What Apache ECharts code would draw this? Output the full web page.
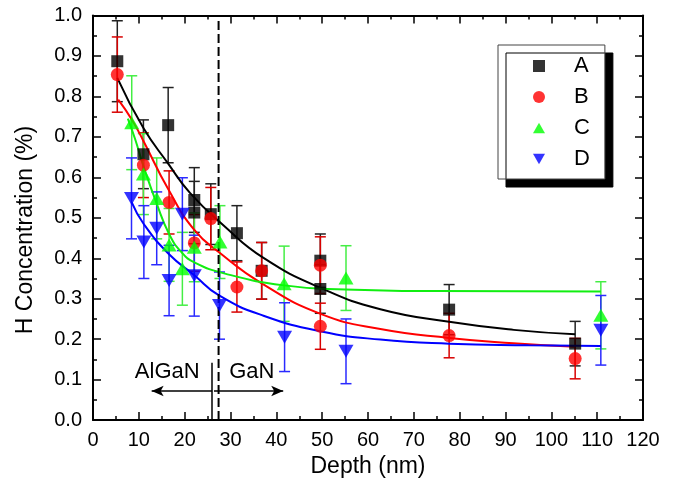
<!DOCTYPE html>
<html>
<head>
<meta charset="utf-8">
<script src="https://cdn.jsdelivr.net/npm/echarts@6/dist/echarts.min.js"></script>
<style>html,body{margin:0;padding:0;background:#fff}#c{width:677px;height:483px}</style>
</head>
<body>
<div id="c"></div>
<script>
// ---- data ----
const xTicks = [0,10,20,30,40,50,60,70,80,90,100,110,120];
const yTicks = [0.0,0.1,0.2,0.3,0.4,0.5,0.6,0.7,0.8,0.9,1.0];

const A_x   = [5.3, 11.0, 16.4, 22.1, 22.1, 25.7, 31.4, 36.8, 49.6, 49.6, 77.7, 105.2];
const A_y   = [0.887, 0.657, 0.729, 0.544, 0.513, 0.509, 0.462, 0.369, 0.394, 0.324, 0.273, 0.189];
const A_err = [0.10, 0.085, 0.093, 0.08, 0.077, 0.075, 0.068, 0.07, 0.066, 0.06, 0.062, 0.055];

const B_x   = [5.3, 11.0, 16.6, 22.1, 25.7, 31.4, 36.8, 49.6, 49.6, 77.7, 105.2];
const B_y   = [0.854, 0.63, 0.538, 0.438, 0.498, 0.329, 0.369, 0.383, 0.232, 0.209, 0.152];
const B_err = [0.093, 0.08, 0.078, 0.07, 0.077, 0.062, 0.07, 0.07, 0.057, 0.055, 0.05];

const C_x   = [8.45, 11.0, 13.9, 16.6, 19.5, 22.1, 27.7, 41.7, 55.2, 110.8];
const C_y   = [0.735, 0.608, 0.548, 0.433, 0.374, 0.427, 0.44, 0.337, 0.351, 0.259];
const C_err = [0.116, 0.10, 0.10, 0.09, 0.09, 0.085, 0.09, 0.093, 0.08, 0.083];

const D_x   = [8.4, 11.1, 13.9, 16.6, 19.5, 22.1, 27.6, 41.8, 55.2, 110.8];
const D_y   = [0.548, 0.44, 0.474, 0.345, 0.509, 0.357, 0.283, 0.205, 0.17, 0.222];
const D_err = [0.10, 0.09, 0.09, 0.087, 0.09, 0.10, 0.083, 0.085, 0.08, 0.086];

// fitted curves
const A_fit_x = [5.3, 11.0, 16.4, 21.2, 28.5, 37.2, 49.8, 62.7, 77.7, 91.8, 105.2];
const A_fit_y = [0.846, 0.722, 0.634, 0.561, 0.481, 0.401, 0.326, 0.274, 0.243, 0.223, 0.212];
const B_fit_x = [5.5, 8.45, 11.0, 16.4, 22.1, 27.7, 36.8, 49.8, 62.7, 77.7, 91.7, 105.2];
const B_fit_y = [0.792, 0.743, 0.69, 0.571, 0.47, 0.413, 0.338, 0.262, 0.225, 0.203, 0.19, 0.181];
const C_fit_x = [7.6, 9.2, 11.0, 13.9, 16.6, 19.3, 22.1, 28.8, 41.7, 55.0, 75.0, 110.8];
const C_fit_y = [0.745, 0.694, 0.628, 0.535, 0.46, 0.415, 0.39, 0.362, 0.333, 0.323, 0.319, 0.318];
const D_fit_x = [8.45, 11.1, 16.6, 22.1, 27.5, 37.2, 49.8, 62.7, 77.7, 95.0, 110.8];
const D_fit_y = [0.538, 0.484, 0.41, 0.358, 0.308, 0.258, 0.219, 0.199, 0.189, 0.185, 0.183];

const seriesNames = ['A','B','C','D'];
const layerLabels = ['AlGaN','GaN'];
const layerLabelX = [16.2, 34.65];
const layerLabelY = 0.119;
const dashedX = 27.4;
const interfaceX = 26.0;
const interfaceTop = 0.142;
const arrowY = 0.072;
const arrowLeftEnd = 12.8;
const arrowRightEnd = 41.5;

// ---- build chart ----
const FONT = 'Liberation Sans';
const pts = (xs, ys) => xs.map((x,i)=>[x, ys[i]]);
const errs = (xs, ys, es) => xs.map((x,i)=>[x, ys[i]-es[i], ys[i]+es[i]]);

function errSeries(name, xs, ys, es, color){
  return {
    name: name, type: 'custom', silent: true, z: 2,
    data: errs(xs, ys, es),
    renderItem: function(params, api){
      const x = api.value(0);
      const lo = api.coord([x, api.value(1)]);
      const hi = api.coord([x, api.value(2)]);
      const cap = 5.5;
      const style = {stroke: color, lineWidth: 1.5, fill: null};
      return {type:'group', children:[
        {type:'line', shape:{x1:lo[0], y1:lo[1], x2:hi[0], y2:hi[1]}, style:style},
        {type:'line', shape:{x1:lo[0]-cap, y1:lo[1], x2:lo[0]+cap, y2:lo[1]}, style:style},
        {type:'line', shape:{x1:hi[0]-cap, y1:hi[1], x2:hi[0]+cap, y2:hi[1]}, style:style}
      ]};
    }
  };
}
function fitSeries(name, xs, ys, color){
  return {name: name, type:'line', data: pts(xs, ys), showSymbol:false, symbol:'none',
    smooth: 0.5, silent:true, z:3,
    lineStyle:{color:color, width:2}};
}
const colors = ['#000000','#ff0000','#00ff00','#0000ff'];
const errColors = ['#222222','#d80000','#44ee44','#2a2aff'];
const downTri = 'path://M0,0 L14,0 L7,12 Z';
const upTri = 'path://M7,0 L14,12 L0,12 Z';

const axisCommon = {
  axisLine:{show:true, onZero:false, lineStyle:{color:'#000', width:2}},
  axisTick:{show:true, inside:true, length:8, lineStyle:{color:'#000', width:1.5}},
  minorTick:{show:true, splitNumber:2, length:4, lineStyle:{color:'#000', width:1.5}},
  splitLine:{show:false}
};

const option = {
  animation:false,
  backgroundColor:'#ffffff',
  textStyle:{fontFamily:FONT, color:'#000'},
  grid:{left:93, right:34, top:15.5, bottom:61, containLabel:false},
  xAxis:[Object.assign({
    type:'value', min:xTicks[0], max:xTicks[xTicks.length-1], interval:10,
    position:'bottom',
    name:'Depth (nm)', nameLocation:'middle', nameGap:33,
    nameTextStyle:{fontSize:23, color:'#000', fontFamily:FONT},
    axisLabel:{fontSize:20, color:'#000', margin:10, fontFamily:FONT}
  }, axisCommon), Object.assign({
    type:'value', min:xTicks[0], max:xTicks[xTicks.length-1], interval:10,
    position:'top', axisLabel:{show:false}
  }, axisCommon)],
  yAxis:[Object.assign({
    type:'value', min:yTicks[0], max:yTicks[yTicks.length-1], interval:0.1,
    position:'left',
    axisLabel:{fontSize:20, color:'#000', margin:11, fontFamily:FONT, formatter:v=>v.toFixed(1)}
  }, axisCommon), Object.assign({
    type:'value', min:yTicks[0], max:yTicks[yTicks.length-1], interval:0.1,
    position:'right', axisLabel:{show:false}
  }, axisCommon)],
  legend:{
    data: [
      {name:seriesNames[0], icon:'rect', itemStyle:{color:colors[0]}},
      {name:seriesNames[1], icon:'circle', itemStyle:{color:colors[1]}},
      {name:seriesNames[2], icon:upTri, itemStyle:{color:colors[2]}},
      {name:seriesNames[3], icon:downTri, itemStyle:{color:colors[3]}}
    ],
    orient:'vertical', left:498, top:45,
    padding:[10,15,9,35],
    itemWidth:12, itemHeight:12, itemGap:9,
    backgroundColor:'#fff', borderColor:'#444', borderWidth:1,
    shadowColor:'#000', shadowOffsetX:8, shadowOffsetY:8, shadowBlur:0,
    textStyle:{fontSize:22, lineHeight:22, color:'#000', fontFamily:FONT, padding:[0,0,0,24]},
    selectedMode:false
  },
  graphic:[{
    type:'text', x:26, y:230, rotation:Math.PI/2,
    style:{text:'H Concentration (%)', font:'23px "Liberation Sans"', fill:'#000',
      textAlign:'center', textVerticalAlign:'middle'}
  }],
  series:[
    errSeries('A err', A_x, A_y, A_err, errColors[0]),
    errSeries('B err', B_x, B_y, B_err, errColors[1]),
    errSeries('C err', C_x, C_y, C_err, errColors[2]),
    errSeries('D err', D_x, D_y, D_err, errColors[3]),
    fitSeries('A fit', A_fit_x, A_fit_y, colors[0]),
    fitSeries('B fit', B_fit_x, B_fit_y, colors[1]),
    fitSeries('C fit', C_fit_x, C_fit_y, '#11ee11'),
    fitSeries('D fit', D_fit_x, D_fit_y, colors[3]),
    {name:'A', type:'scatter', data:pts(A_x,A_y), symbol:'rect', symbolSize:12, itemStyle:{color:colors[0]}, z:5},
    {name:'B', type:'scatter', data:pts(B_x,B_y), symbol:'circle', symbolSize:13, itemStyle:{color:colors[1]}, z:5},
    {name:'C', type:'scatter', data:pts(C_x,C_y), symbol:'triangle', symbolSize:[15,13], itemStyle:{color:colors[2]}, z:5},
    {name:'D', type:'scatter', data:pts(D_x,D_y), symbol:'triangle', symbolRotate:180, symbolSize:[15,13], itemStyle:{color:colors[3]}, z:5},
    {
      name:'guides', type:'line', data:[[dashedX, yTicks[0]],[dashedX, yTicks[yTicks.length-1]]],
      symbol:'none', silent:true, z:4,
      lineStyle:{color:'#000', width:2, type:[9,4]},
      markLine:{
        silent:true, animation:false, label:{show:false},
        lineStyle:{color:'#000', width:1.5, type:'solid'},
        symbol:['none','none'],
        data:[
          [{coord:[interfaceX, 0], symbol:'none'},{coord:[interfaceX, interfaceTop], symbol:'none'}],
          [{coord:[interfaceX, arrowY], symbol:'none'},{coord:[arrowLeftEnd, arrowY], symbol:'arrow', symbolSize:[8,12]}],
          [{coord:[interfaceX+0.4, arrowY], symbol:'none'},{coord:[arrowRightEnd, arrowY], symbol:'arrow', symbolSize:[8,12]}]
        ]
      }
    },
    {
      name:'layers', type:'custom', silent:true, z:6,
      data: layerLabels.map((t,i)=>[layerLabelX[i], layerLabelY, i]),
      renderItem: function(params, api){
        const p = api.coord([api.value(0), api.value(1)]);
        return {type:'text', x:p[0], y:p[1], style:{
          text: layerLabels[api.value(2)], fill:'#000', font:'22px "Liberation Sans"',
          textAlign:'center', textVerticalAlign:'middle'}};
      }
    }
  ]
};
const chart = echarts.init(document.getElementById('c'), null, {renderer:'canvas'});
chart.setOption(option);
</script>
</body>
</html>
